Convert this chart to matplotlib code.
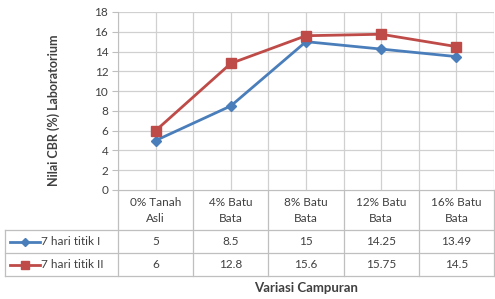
import matplotlib.pyplot as plt
import numpy as np
from matplotlib.transforms import blended_transform_factory

plt.rcParams['font.family'] = ['Lato', 'DejaVu Sans']

kategori = ['0% Tanah\nAsli', '4% Batu\nBata', '8% Batu\nBata', '12% Batu\nBata', '16% Batu\nBata']
titik_1 = [5, 8.5, 15, 14.25, 13.49]
titik_2 = [6, 12.8, 15.6, 15.75, 14.5]
teks_1 = ['5', '8.5', '15', '14.25', '13.49']
teks_2 = ['6', '12.8', '15.6', '15.75', '14.5']
legendas = ['7 hari titik I', '7 hari titik II']
yticks = np.arange(0, 19, 2)

biru = '#4A7EBB'
merah = '#BE4B48'
grade = '#D0D0D0'
garis_tabel = '#BFBFBF'
cor_texto = '#404040'

W, H = 495, 299
fig = plt.figure(figsize=(W / 100, H / 100), dpi=100)

# area do gráfico em pixels
x0, x1, ytop, ybot = 118, 494, 12, 190
ax = fig.add_axes([x0 / W, 1 - ybot / H, (x1 - x0) / W, (ybot - ytop) / H])
n = len(kategori)
x = np.arange(n) + 0.5
ax.set_xlim(0, n)
ax.set_ylim(0, 18)

for y in yticks:
    ax.axhline(y, color=grade, lw=0.9, zorder=0)
for xv in np.arange(0, n + 0.01, 0.5):
    ax.axvline(xv, color=grade, lw=0.9, zorder=0)

ax.plot(x, titik_1, color=biru, lw=2, marker='D', ms=5.5, zorder=3)
ax.plot(x, titik_2, color=merah, lw=2, marker='s', ms=7, zorder=3)

ax.set_yticks(yticks)
ax.set_xticks([])
ax.tick_params(axis='y', length=4, color=garis_tabel, labelsize=8.5, labelcolor=cor_texto, pad=3)
for s in ['top', 'right', 'bottom']:
    ax.spines[s].set_visible(False)
ax.spines['left'].set_color(garis_tabel)

ax.set_ylabel('Nilai CBR (%) Laboratorium', fontsize=9, fontweight='bold', color=cor_texto)
ax.yaxis.set_label_coords(-0.155, 0.45)

# tabela de dados abaixo do gráfico
ov = fig.add_axes([0, 0, 1, 1], zorder=-1)
ov.set_xlim(0, W)
ov.set_ylim(H, 0)
ov.axis('off')
tr = blended_transform_factory(ax.transData, ov.transData)

r0, r1, r2, r3 = 190, 230, 253, 276
ov.plot([x0, x1], [r0, r0], color=garis_tabel, lw=0.9)
for r in [r1, r2, r3]:
    ov.plot([5, x1], [r, r], color=garis_tabel, lw=0.9)
ov.plot([5, 5], [r1, r3], color=garis_tabel, lw=0.9)
for b in range(n + 1):
    ov.plot([b, b], [r0, r3], color=garis_tabel, lw=0.9, transform=tr)

for i in range(n):
    baris = kategori[i].split('\n')
    for j, t in enumerate(baris):
        ov.text(x[i], 203 + j * 15, t, transform=tr, ha='center', va='center',
                fontsize=8.5, color=cor_texto)
    ov.text(x[i], (r1 + r2) / 2, teks_1[i], transform=tr, ha='center', va='center',
            fontsize=8.5, color=cor_texto)
    ov.text(x[i], (r2 + r3) / 2, teks_2[i], transform=tr, ha='center', va='center',
            fontsize=8.5, color=cor_texto)

# chaves da legenda
ov.plot([10, 40], [(r1 + r2) / 2] * 2, color=biru, lw=2)
ov.plot([25], [(r1 + r2) / 2], color=biru, marker='D', ms=4)
ov.plot([10, 40], [(r2 + r3) / 2] * 2, color=merah, lw=2)
ov.plot([25], [(r2 + r3) / 2], color=merah, marker='s', ms=5.5)
ov.text(41, (r1 + r2) / 2, legendas[0], ha='left', va='center', fontsize=8.5, color=cor_texto)
ov.text(41, (r2 + r3) / 2, legendas[1], ha='left', va='center', fontsize=8.5, color=cor_texto)

ov.text((x0 + x1) / 2, 288, 'Variasi Campuran', ha='center', va='center',
        fontsize=9.5, fontweight='bold', color=cor_texto)

fig.savefig('out.png', dpi=100)
